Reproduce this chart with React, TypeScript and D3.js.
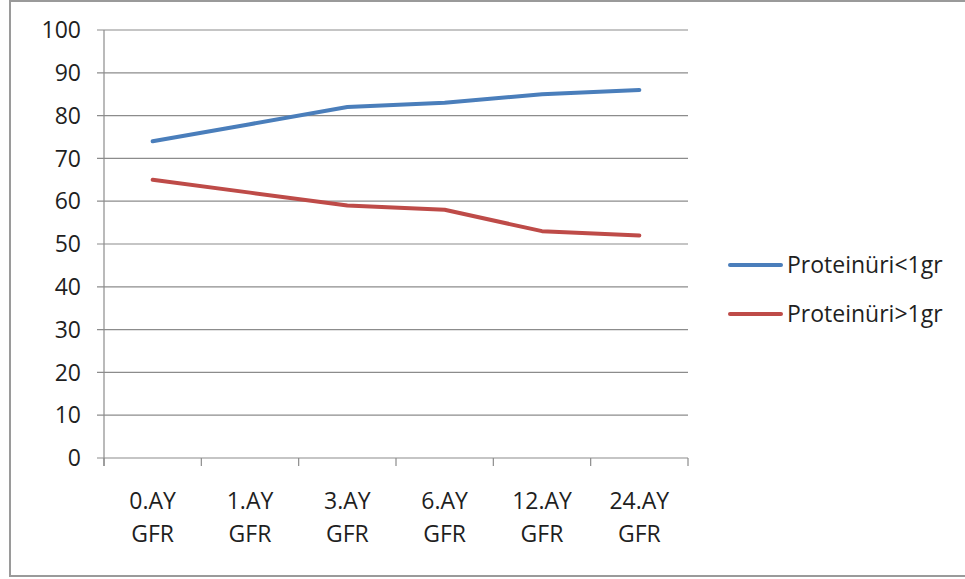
import React from "react";
import * as d3 from "d3";

const categories = ["0.AY GFR", "1.AY GFR", "3.AY GFR", "6.AY GFR", "12.AY GFR", "24.AY GFR"];
const seriesNames = ["Proteinüri<1gr", "Proteinüri>1gr"];
const below1gr = [74, 78, 82, 83, 85, 86];
const above1gr = [65, 62, 59, 58, 53, 52];
const yTicks = [0, 10, 20, 30, 40, 50, 60, 70, 80, 90, 100];
const colors = ["#4a7ebb", "#be4b48"];

const W = 965;
const H = 579;
const left = 104;
const right = 688;
const top = 30;
const bottom = 458;
const font = "'Open Sans', 'Noto Sans', sans-serif";
const fs = 23;

export default function App() {
  const x = d3.scaleBand<string>().domain(categories).range([left, right]).paddingInner(0).paddingOuter(0);
  const y = d3.scaleLinear().domain([0, 100]).range([bottom, top]);
  const line = d3
    .line<number>()
    .x((_, i) => (x(categories[i]) as number) + x.bandwidth() / 2)
    .y((d) => y(d));
  const series = [below1gr, above1gr];
  const xTickPos = categories.map((c) => x(c) as number).concat([right]);

  return (
    <svg width={W} height={H} style={{ position: "absolute", left: 0, top: 0 }}>
      <rect x={0} y={0} width={W} height={H} fill="#ffffff" />
      <rect x={10} y={1} width={W + 10} height={575} fill="none" stroke="#9a9a9a" strokeWidth={2} />
      {yTicks.map((t) => (
        <g key={t}>
          <line x1={97} x2={right} y1={y(t)} y2={y(t)} stroke="#8c8c8c" strokeWidth={1.2} />
          <text x={81} y={y(t)} dy="0.36em" textAnchor="end" fontSize={fs} fontFamily={font} fill="#1f1f1f">
            {t}
          </text>
        </g>
      ))}
      <line x1={left} x2={left} y1={top} y2={bottom + 8} stroke="#8c8c8c" strokeWidth={1.2} />
      {xTickPos.map((p, i) => (
        <line key={i} x1={p} x2={p} y1={bottom} y2={bottom + 8} stroke="#8c8c8c" strokeWidth={1.2} />
      ))}
      {categories.map((c) => {
        const [l1, l2] = c.split(" ");
        const cx = (x(c) as number) + x.bandwidth() / 2;
        return (
          <text key={c} x={cx} textAnchor="middle" fontSize={fs} fontFamily={font} fill="#1f1f1f">
            <tspan x={cx} y={509}>{l1}</tspan>
            <tspan x={cx} y={542}>{l2}</tspan>
          </text>
        );
      })}
      {series.map((s, i) => (
        <path key={i} d={line(s) as string} fill="none" stroke={colors[i]} strokeWidth={4} strokeLinecap="round" strokeLinejoin="round" />
      ))}
      {seriesNames.map((n, i) => {
        const ly = 265 + i * 49;
        return (
          <g key={n}>
            <line x1={730} x2={781} y1={ly} y2={ly} stroke={colors[i]} strokeWidth={4} strokeLinecap="round" />
            <text x={787} y={ly} dy="0.36em" fontSize={fs} fontFamily={font} fill="#1f1f1f">
              {n}
            </text>
          </g>
        );
      })}
    </svg>
  );
}
